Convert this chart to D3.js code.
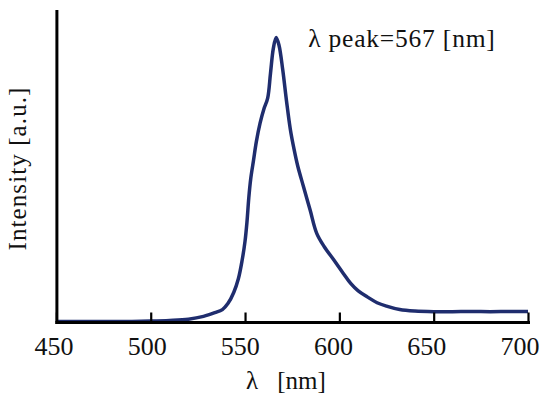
<!DOCTYPE html>
<html>
<head>
<meta charset="utf-8">
<script src="https://cdn.jsdelivr.net/npm/d3@7"></script>
</head>
<body style="margin:0; background:#fff">
<script>
// wavelength [nm]
const wavelength = [450, 470, 490, 500, 510, 520, 528, 534, 538, 541, 544, 546.5, 548.5, 550, 551,
    552, 553, 554.5, 556, 558, 560, 562, 563.5, 565, 566.5, 568, 570, 572, 574, 576, 578, 581,
    584.5, 588, 592, 597, 602, 606, 610, 615, 620, 625, 632, 640, 650, 660, 670, 680, 690, 700];
// intensity [a.u.]
const intensity = [0.002, 0.002, 0.002, 0.003, 0.005, 0.009, 0.018, 0.030, 0.040, 0.060, 0.095, 0.14, 0.20, 0.26, 0.32,
    0.40, 0.46, 0.52, 0.58, 0.64, 0.685, 0.72, 0.80, 0.88, 0.915, 0.89, 0.81, 0.71, 0.62, 0.555, 0.50, 0.435,
    0.36, 0.285, 0.242, 0.20, 0.157, 0.124, 0.10, 0.08, 0.062, 0.051, 0.040, 0.035, 0.033, 0.033, 0.034, 0.033, 0.034, 0.034];
const xTicks = [450, 500, 550, 600, 650, 700];
const peakWavelength = 567;

const width = 542;
const height = 398;
const paddingTop = 11;
const paddingBottom = 76;
const paddingLeft = 56.4;
const paddingRight = 14;
const fontFamily = 'Liberation Serif';

const dataset = wavelength.map((w, i) => ({ name: w, value: intensity[i] }));

const xScale = d3.scaleLinear()
    .domain([450, 700])
    .range([paddingLeft, width - paddingRight]);
const yScale = d3.scaleLinear()
    .domain([0, 1])
    .range([height - paddingBottom, paddingTop]);

const svg = d3.select('body').append('svg')
    .attr('width', width)
    .attr('height', height)
    .style('display', 'block');

// data line
const linePath = d3.line()
    .curve(d3.curveCatmullRom)
    .x((d) => xScale(d.name))
    .y((d) => yScale(d.value));

svg.append('path')
    .attr('d', linePath(dataset))
    .attr('fill', 'none')
    .attr('stroke', '#1f2d6e')
    .attr('stroke-width', 3.5)
    .attr('stroke-linejoin', 'round');

// x axis, ticks pointing inward
const xAxis = d3.axisBottom(xScale)
    .tickValues(xTicks)
    .tickSizeInner(-9.5)
    .tickSizeOuter(0)
    .tickPadding(15)
    .tickFormat(d3.format('d'));

const gx = svg.append('g')
    .attr('transform', `translate(0,${height - paddingBottom})`)
    .call(xAxis)
    .attr('font-family', fontFamily)
    .attr('font-size', 26);
gx.select('.domain').attr('stroke', '#000').attr('stroke-width', 3).attr('stroke-linecap', 'square');
gx.selectAll('.tick line').attr('stroke', '#000').attr('stroke-width', 2.2);
// labels sit a little left of their ticks, more so toward the right
gx.selectAll('.tick text')
    .attr('dx', (d, i) => -3 - 1.1 * i)
    .attr('fill', '#111');

// y axis, no ticks
const yAxis = d3.axisLeft(yScale).tickValues([]).tickSizeOuter(0);
const gy = svg.append('g')
    .attr('transform', `translate(${paddingLeft},0)`)
    .call(yAxis);
gy.select('.domain').attr('stroke', '#000').attr('stroke-width', 3).attr('stroke-linecap', 'square');

// axis titles
const xTitle = svg.append('text')
    .attr('x', 246)
    .attr('y', 389)
    .attr('fill', '#111')
    .attr('font-family', fontFamily)
    .attr('font-size', 25);
xTitle.append('tspan').text('λ');
xTitle.append('tspan').attr('dx', 19).text('[nm]');

svg.append('text')
    .attr('transform', `translate(26,${(paddingTop + height - paddingBottom) / 2 + 2}) rotate(-90)`)
    .attr('text-anchor', 'middle')
    .attr('fill', '#111')
    .attr('font-family', fontFamily)
    .attr('font-size', 25)
    .attr('letter-spacing', 1.1)
    .text('Intensity [a.u.]');

// peak annotation
const peak = dataset.reduce((a, b) => (b.value > a.value ? b : a));
svg.append('text')
    .attr('x', xScale(peak.name) + 32)
    .attr('y', yScale(peak.value) + 10)
    .attr('fill', '#111')
    .attr('font-family', fontFamily)
    .attr('font-size', 25.5)
    .attr('letter-spacing', 0.8)
    .text(`λ peak=${peakWavelength} [nm]`);
</script>
</body>
</html>
